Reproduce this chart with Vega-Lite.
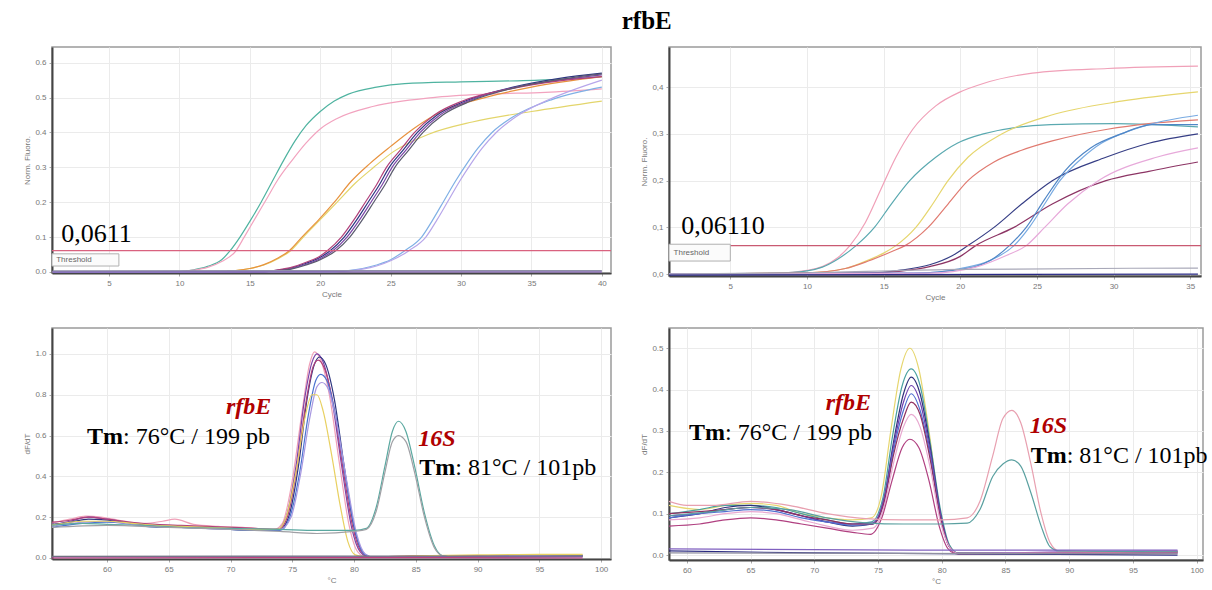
{
"$schema": "https://vega.github.io/schema/vega-lite/v6.json",
"background": "white",
"padding": {"left": 23, "top": 9, "right": 0, "bottom": 0},
"title": {"text": "rfbE", "font": "Liberation Serif", "fontSize": 25, "fontWeight": "bold", "color": "#000", "anchor": "middle", "dx": 31, "offset": 12},
"config": {
 "view": {"stroke": "#9a9a9a", "strokeWidth": 1.5},
 "axis": {"labelFont": "Liberation Sans", "labelFontSize": 8, "labelColor": "#777", "titleFont": "Liberation Sans", "titleFontSize": 8, "titleFontWeight": "normal", "titleColor": "#777", "gridColor": "#ebebeb", "gridWidth": 1, "tickColor": "#aaa", "tickSize": 3, "domainColor": "#444", "domainWidth": 2, "labelPadding": 3, "titlePadding": 3}
},
"datasets": {
 "amp1": [
  {"id":"teal","x":1,"y":0},{"id":"teal","x":10,"y":0.001},{"id":"teal","x":11,"y":0.006},{"id":"teal","x":12,"y":0.016},{"id":"teal","x":13,"y":0.035},{"id":"teal","x":13.6,"y":0.061},{"id":"teal","x":14.3,"y":0.1},{"id":"teal","x":15,"y":0.145},{"id":"teal","x":15.8,"y":0.2},{"id":"teal","x":16.6,"y":0.26},{"id":"teal","x":17.4,"y":0.32},{"id":"teal","x":18.2,"y":0.375},{"id":"teal","x":19,"y":0.42},{"id":"teal","x":20,"y":0.46},{"id":"teal","x":21,"y":0.49},{"id":"teal","x":22,"y":0.51},{"id":"teal","x":24,"y":0.53},{"id":"teal","x":26,"y":0.54},{"id":"teal","x":30,"y":0.545},{"id":"teal","x":34,"y":0.548},{"id":"teal","x":37,"y":0.552},{"id":"teal","x":40,"y":0.56},
  {"id":"pink","x":1,"y":0},{"id":"pink","x":10,"y":0.001},{"id":"pink","x":11,"y":0.005},{"id":"pink","x":12,"y":0.013},{"id":"pink","x":13,"y":0.03},{"id":"pink","x":14,"y":0.06},{"id":"pink","x":14.6,"y":0.1},{"id":"pink","x":15.4,"y":0.155},{"id":"pink","x":16.2,"y":0.21},{"id":"pink","x":17,"y":0.265},{"id":"pink","x":18,"y":0.32},{"id":"pink","x":19,"y":0.37},{"id":"pink","x":20,"y":0.41},{"id":"pink","x":21.2,"y":0.44},{"id":"pink","x":23.8,"y":0.475},{"id":"pink","x":28,"y":0.5},{"id":"pink","x":32,"y":0.51},{"id":"pink","x":36,"y":0.515},{"id":"pink","x":40,"y":0.525},
  {"id":"yellow","x":1,"y":0},{"id":"yellow","x":13,"y":0.001},{"id":"yellow","x":14,"y":0.004},{"id":"yellow","x":15,"y":0.01},{"id":"yellow","x":16,"y":0.02},{"id":"yellow","x":17,"y":0.038},{"id":"yellow","x":17.9,"y":0.061},{"id":"yellow","x":18.8,"y":0.1},{"id":"yellow","x":20,"y":0.15},{"id":"yellow","x":21.2,"y":0.2},{"id":"yellow","x":22.5,"y":0.255},{"id":"yellow","x":23.8,"y":0.3},{"id":"yellow","x":25.2,"y":0.345},{"id":"yellow","x":27.7,"y":0.395},{"id":"yellow","x":30.8,"y":0.43},{"id":"yellow","x":35,"y":0.46},{"id":"yellow","x":40,"y":0.49},
  {"id":"orange","x":1,"y":0},{"id":"orange","x":13,"y":0.001},{"id":"orange","x":14,"y":0.004},{"id":"orange","x":15,"y":0.01},{"id":"orange","x":16,"y":0.021},{"id":"orange","x":17,"y":0.04},{"id":"orange","x":17.8,"y":0.061},{"id":"orange","x":18.7,"y":0.1},{"id":"orange","x":19.9,"y":0.15},{"id":"orange","x":21,"y":0.2},{"id":"orange","x":22.2,"y":0.26},{"id":"orange","x":23.5,"y":0.31},{"id":"orange","x":25,"y":0.36},{"id":"orange","x":26.6,"y":0.41},{"id":"orange","x":28.6,"y":0.46},{"id":"orange","x":31.7,"y":0.5},{"id":"orange","x":35,"y":0.53},{"id":"orange","x":40,"y":0.56},
  {"id":"navy","x":1,"y":0},{"id":"navy","x":16,"y":0.001},{"id":"navy","x":17,"y":0.005},{"id":"navy","x":18,"y":0.012},{"id":"navy","x":19,"y":0.025},{"id":"navy","x":20,"y":0.042},{"id":"navy","x":20.7,"y":0.061},{"id":"navy","x":21.7,"y":0.1},{"id":"navy","x":22.6,"y":0.15},{"id":"navy","x":23.4,"y":0.2},{"id":"navy","x":24.2,"y":0.25},{"id":"navy","x":24.9,"y":0.3},{"id":"navy","x":25.9,"y":0.35},{"id":"navy","x":26.9,"y":0.4},{"id":"navy","x":28.3,"y":0.45},{"id":"navy","x":30.3,"y":0.49},{"id":"navy","x":33.7,"y":0.53},{"id":"navy","x":37,"y":0.555},{"id":"navy","x":40,"y":0.57},
  {"id":"purple","x":1,"y":0},{"id":"purple","x":16,"y":0.001},{"id":"purple","x":17,"y":0.004},{"id":"purple","x":18,"y":0.01},{"id":"purple","x":19,"y":0.022},{"id":"purple","x":20,"y":0.038},{"id":"purple","x":20.9,"y":0.061},{"id":"purple","x":21.9,"y":0.1},{"id":"purple","x":22.8,"y":0.15},{"id":"purple","x":23.6,"y":0.2},{"id":"purple","x":24.4,"y":0.25},{"id":"purple","x":25.1,"y":0.3},{"id":"purple","x":26.1,"y":0.35},{"id":"purple","x":27.1,"y":0.4},{"id":"purple","x":28.5,"y":0.45},{"id":"purple","x":30.5,"y":0.49},{"id":"purple","x":33.9,"y":0.53},{"id":"purple","x":37,"y":0.55},{"id":"purple","x":40,"y":0.565},
  {"id":"magenta","x":1,"y":0},{"id":"magenta","x":16,"y":0.001},{"id":"magenta","x":17,"y":0.006},{"id":"magenta","x":18,"y":0.014},{"id":"magenta","x":19,"y":0.028},{"id":"magenta","x":20,"y":0.046},{"id":"magenta","x":20.5,"y":0.061},{"id":"magenta","x":21.5,"y":0.1},{"id":"magenta","x":22.4,"y":0.15},{"id":"magenta","x":23.2,"y":0.2},{"id":"magenta","x":24,"y":0.25},{"id":"magenta","x":24.7,"y":0.3},{"id":"magenta","x":25.7,"y":0.35},{"id":"magenta","x":26.7,"y":0.4},{"id":"magenta","x":28.1,"y":0.45},{"id":"magenta","x":30.1,"y":0.49},{"id":"magenta","x":33.5,"y":0.525},{"id":"magenta","x":37,"y":0.548},{"id":"magenta","x":40,"y":0.56},
  {"id":"dgray","x":1,"y":0},{"id":"dgray","x":16,"y":0.001},{"id":"dgray","x":17,"y":0.004},{"id":"dgray","x":18,"y":0.009},{"id":"dgray","x":19,"y":0.02},{"id":"dgray","x":20,"y":0.035},{"id":"dgray","x":21.1,"y":0.061},{"id":"dgray","x":22.1,"y":0.1},{"id":"dgray","x":23,"y":0.15},{"id":"dgray","x":23.8,"y":0.2},{"id":"dgray","x":24.6,"y":0.25},{"id":"dgray","x":25.3,"y":0.3},{"id":"dgray","x":26.3,"y":0.35},{"id":"dgray","x":27.3,"y":0.4},{"id":"dgray","x":28.7,"y":0.45},{"id":"dgray","x":30.7,"y":0.49},{"id":"dgray","x":34,"y":0.53},{"id":"dgray","x":37,"y":0.552},{"id":"dgray","x":40,"y":0.568},
  {"id":"lblue","x":1,"y":0},{"id":"lblue","x":21,"y":0.001},{"id":"lblue","x":22,"y":0.004},{"id":"lblue","x":23,"y":0.01},{"id":"lblue","x":24,"y":0.02},{"id":"lblue","x":25,"y":0.035},{"id":"lblue","x":26,"y":0.061},{"id":"lblue","x":27.2,"y":0.1},{"id":"lblue","x":28,"y":0.15},{"id":"lblue","x":28.8,"y":0.205},{"id":"lblue","x":29.6,"y":0.26},{"id":"lblue","x":30.4,"y":0.31},{"id":"lblue","x":31.2,"y":0.355},{"id":"lblue","x":32.2,"y":0.4},{"id":"lblue","x":33.7,"y":0.445},{"id":"lblue","x":36.5,"y":0.495},{"id":"lblue","x":40,"y":0.53},
  {"id":"lav","x":1,"y":0},{"id":"lav","x":21,"y":0.001},{"id":"lav","x":22,"y":0.003},{"id":"lav","x":23,"y":0.008},{"id":"lav","x":24,"y":0.017},{"id":"lav","x":25,"y":0.032},{"id":"lav","x":26.3,"y":0.061},{"id":"lav","x":27.5,"y":0.1},{"id":"lav","x":28.3,"y":0.15},{"id":"lav","x":29.1,"y":0.205},{"id":"lav","x":29.9,"y":0.26},{"id":"lav","x":30.7,"y":0.31},{"id":"lav","x":31.5,"y":0.355},{"id":"lav","x":32.5,"y":0.4},{"id":"lav","x":33.9,"y":0.445},{"id":"lav","x":36.3,"y":0.495},{"id":"lav","x":40,"y":0.55},
  {"id":"base1","x":1,"y":0},{"id":"base1","x":40,"y":0},
  {"id":"base2","x":1,"y":0.003},{"id":"base2","x":20,"y":0.004},{"id":"base2","x":40,"y":0.004},
  {"id":"thr","x":0.95,"y":0.0611},{"id":"thr","x":40.65,"y":0.0611}
 ],
 "amp2": [
  {"id":"pink","x":1,"y":0},{"id":"pink","x":8,"y":0.002},{"id":"pink","x":10,"y":0.008},{"id":"pink","x":11,"y":0.016},{"id":"pink","x":12,"y":0.035},{"id":"pink","x":12.8,"y":0.061},{"id":"pink","x":13.8,"y":0.11},{"id":"pink","x":14.8,"y":0.18},{"id":"pink","x":15.8,"y":0.25},{"id":"pink","x":16.9,"y":0.31},{"id":"pink","x":18.4,"y":0.36},{"id":"pink","x":20,"y":0.39},{"id":"pink","x":21.5,"y":0.408},{"id":"pink","x":24.7,"y":0.43},{"id":"pink","x":29.6,"y":0.44},{"id":"pink","x":35.5,"y":0.445},
  {"id":"teal","x":1,"y":0},{"id":"teal","x":8,"y":0.002},{"id":"teal","x":10,"y":0.007},{"id":"teal","x":11,"y":0.015},{"id":"teal","x":12,"y":0.032},{"id":"teal","x":13.2,"y":0.061},{"id":"teal","x":14.4,"y":0.1},{"id":"teal","x":15.5,"y":0.15},{"id":"teal","x":16.7,"y":0.2},{"id":"teal","x":18.4,"y":0.25},{"id":"teal","x":19.8,"y":0.28},{"id":"teal","x":21.5,"y":0.3},{"id":"teal","x":25.9,"y":0.32},{"id":"teal","x":30,"y":0.322},{"id":"teal","x":35.5,"y":0.315},
  {"id":"yellow","x":1,"y":0},{"id":"yellow","x":10,"y":0.003},{"id":"yellow","x":12.5,"y":0.012},{"id":"yellow","x":14,"y":0.03},{"id":"yellow","x":15,"y":0.045},{"id":"yellow","x":15.8,"y":0.061},{"id":"yellow","x":17.1,"y":0.1},{"id":"yellow","x":18.2,"y":0.15},{"id":"yellow","x":19.2,"y":0.2},{"id":"yellow","x":20.5,"y":0.25},{"id":"yellow","x":22.7,"y":0.3},{"id":"yellow","x":25.9,"y":0.34},{"id":"yellow","x":30.5,"y":0.37},{"id":"yellow","x":35.5,"y":0.39},
  {"id":"salmon","x":1,"y":0},{"id":"salmon","x":10,"y":0.003},{"id":"salmon","x":12.5,"y":0.012},{"id":"salmon","x":14,"y":0.028},{"id":"salmon","x":15.5,"y":0.048},{"id":"salmon","x":16.4,"y":0.061},{"id":"salmon","x":17.9,"y":0.1},{"id":"salmon","x":19.2,"y":0.15},{"id":"salmon","x":20.5,"y":0.2},{"id":"salmon","x":22.2,"y":0.24},{"id":"salmon","x":24,"y":0.265},{"id":"salmon","x":26,"y":0.285},{"id":"salmon","x":29.6,"y":0.31},{"id":"salmon","x":32.3,"y":0.322},{"id":"salmon","x":35.5,"y":0.33},
  {"id":"navy","x":1,"y":0},{"id":"navy","x":14,"y":0.002},{"id":"navy","x":16,"y":0.008},{"id":"navy","x":18,"y":0.02},{"id":"navy","x":19.5,"y":0.04},{"id":"navy","x":20.5,"y":0.061},{"id":"navy","x":22.2,"y":0.1},{"id":"navy","x":24,"y":0.15},{"id":"navy","x":26,"y":0.2},{"id":"navy","x":29.5,"y":0.25},{"id":"navy","x":32.3,"y":0.28},{"id":"navy","x":35.5,"y":0.3},
  {"id":"maroon","x":1,"y":0},{"id":"maroon","x":14,"y":0.002},{"id":"maroon","x":16,"y":0.006},{"id":"maroon","x":18,"y":0.016},{"id":"maroon","x":20,"y":0.038},{"id":"maroon","x":21,"y":0.061},{"id":"maroon","x":23.5,"y":0.1},{"id":"maroon","x":26,"y":0.15},{"id":"maroon","x":29.5,"y":0.2},{"id":"maroon","x":32.3,"y":0.22},{"id":"maroon","x":35.5,"y":0.24},
  {"id":"lblue","x":1,"y":0},{"id":"lblue","x":17,"y":0.002},{"id":"lblue","x":20,"y":0.012},{"id":"lblue","x":22,"y":0.03},{"id":"lblue","x":23.5,"y":0.061},{"id":"lblue","x":24.5,"y":0.1},{"id":"lblue","x":25.5,"y":0.15},{"id":"lblue","x":26.5,"y":0.2},{"id":"lblue","x":28,"y":0.25},{"id":"lblue","x":29.2,"y":0.28},{"id":"lblue","x":30.5,"y":0.3},{"id":"lblue","x":32.3,"y":0.32},{"id":"lblue","x":35.5,"y":0.34},
  {"id":"blue2","x":1,"y":0},{"id":"blue2","x":17,"y":0.002},{"id":"blue2","x":20,"y":0.01},{"id":"blue2","x":22,"y":0.03},{"id":"blue2","x":23.2,"y":0.061},{"id":"blue2","x":24.3,"y":0.1},{"id":"blue2","x":25.5,"y":0.16},{"id":"blue2","x":26.8,"y":0.22},{"id":"blue2","x":28.5,"y":0.27},{"id":"blue2","x":30.5,"y":0.3},{"id":"blue2","x":32.5,"y":0.32},{"id":"blue2","x":35.5,"y":0.32},
  {"id":"lpink","x":1,"y":0},{"id":"lpink","x":18,"y":0.002},{"id":"lpink","x":21,"y":0.015},{"id":"lpink","x":23,"y":0.04},{"id":"lpink","x":24.3,"y":0.061},{"id":"lpink","x":25.5,"y":0.1},{"id":"lpink","x":27,"y":0.15},{"id":"lpink","x":29,"y":0.2},{"id":"lpink","x":32.8,"y":0.25},{"id":"lpink","x":35.5,"y":0.27},
  {"id":"gbase","x":1,"y":0},{"id":"gbase","x":10,"y":0.003},{"id":"gbase","x":20,"y":0.01},{"id":"gbase","x":35.5,"y":0.013},
  {"id":"nbase","x":1,"y":-0.002},{"id":"nbase","x":35.5,"y":0},
  {"id":"thr","x":1,"y":0.0611},{"id":"thr","x":35.7,"y":0.0611}
 ],
 "melt1": [
  {"id":"pink","x":55.5,"y":0.17},{"id":"pink","x":57,"y":0.19},{"id":"pink","x":58.3,"y":0.205},{"id":"pink","x":59.5,"y":0.2},{"id":"pink","x":61,"y":0.185},{"id":"pink","x":63,"y":0.17},{"id":"pink","x":64.5,"y":0.18},{"id":"pink","x":65.5,"y":0.19},{"id":"pink","x":67,"y":0.165},{"id":"pink","x":69,"y":0.155},{"id":"pink","x":71,"y":0.15},{"id":"pink","x":73.5,"y":0.14},{"id":"pink","x":74.2,"y":0.17},{"id":"pink","x":75,"y":0.38},{"id":"pink","x":75.8,"y":0.72},{"id":"pink","x":76.4,"y":0.95},{"id":"pink","x":76.8,"y":1.01},{"id":"pink","x":77.3,"y":0.97},{"id":"pink","x":78,"y":0.8},{"id":"pink","x":78.8,"y":0.47},{"id":"pink","x":79.6,"y":0.16},{"id":"pink","x":80.3,"y":0.03},{"id":"pink","x":81,"y":0.005},{"id":"pink","x":85,"y":0.008},{"id":"pink","x":90,"y":0.01},{"id":"pink","x":95,"y":0.012},{"id":"pink","x":98.5,"y":0.012},
  {"id":"purple","x":55.5,"y":0.16},{"id":"purple","x":57,"y":0.18},{"id":"purple","x":58.5,"y":0.2},{"id":"purple","x":60,"y":0.19},{"id":"purple","x":62,"y":0.17},{"id":"purple","x":64,"y":0.16},{"id":"purple","x":66,"y":0.155},{"id":"purple","x":68,"y":0.15},{"id":"purple","x":70,"y":0.145},{"id":"purple","x":72,"y":0.14},{"id":"purple","x":73.8,"y":0.14},{"id":"purple","x":74.5,"y":0.2},{"id":"purple","x":75.3,"y":0.45},{"id":"purple","x":76,"y":0.78},{"id":"purple","x":76.6,"y":0.96},{"id":"purple","x":77,"y":1.0},{"id":"purple","x":77.5,"y":0.96},{"id":"purple","x":78.2,"y":0.78},{"id":"purple","x":79,"y":0.45},{"id":"purple","x":79.8,"y":0.15},{"id":"purple","x":80.5,"y":0.03},{"id":"purple","x":81.2,"y":0.005},{"id":"purple","x":85,"y":0.008},{"id":"purple","x":90,"y":0.01},{"id":"purple","x":95,"y":0.01},{"id":"purple","x":98.5,"y":0.01},
  {"id":"navy","x":55.5,"y":0.165},{"id":"navy","x":57,"y":0.175},{"id":"navy","x":58.5,"y":0.19},{"id":"navy","x":60,"y":0.185},{"id":"navy","x":62,"y":0.17},{"id":"navy","x":64,"y":0.155},{"id":"navy","x":66,"y":0.15},{"id":"navy","x":68,"y":0.15},{"id":"navy","x":70,"y":0.14},{"id":"navy","x":72,"y":0.135},{"id":"navy","x":74,"y":0.14},{"id":"navy","x":74.7,"y":0.2},{"id":"navy","x":75.5,"y":0.45},{"id":"navy","x":76.2,"y":0.78},{"id":"navy","x":76.8,"y":0.95},{"id":"navy","x":77.2,"y":0.985},{"id":"navy","x":77.7,"y":0.95},{"id":"navy","x":78.4,"y":0.78},{"id":"navy","x":79.2,"y":0.45},{"id":"navy","x":80,"y":0.15},{"id":"navy","x":80.7,"y":0.03},{"id":"navy","x":81.4,"y":0.005},{"id":"navy","x":85,"y":0.006},{"id":"navy","x":90,"y":0.008},{"id":"navy","x":95,"y":0.01},{"id":"navy","x":98.5,"y":0.01},
  {"id":"magenta","x":55.5,"y":0.175},{"id":"magenta","x":57,"y":0.185},{"id":"magenta","x":58.5,"y":0.2},{"id":"magenta","x":60,"y":0.19},{"id":"magenta","x":62,"y":0.175},{"id":"magenta","x":64,"y":0.165},{"id":"magenta","x":66,"y":0.16},{"id":"magenta","x":68,"y":0.155},{"id":"magenta","x":70,"y":0.15},{"id":"magenta","x":72,"y":0.145},{"id":"magenta","x":73.9,"y":0.14},{"id":"magenta","x":74.6,"y":0.2},{"id":"magenta","x":75.4,"y":0.45},{"id":"magenta","x":76.1,"y":0.76},{"id":"magenta","x":76.7,"y":0.94},{"id":"magenta","x":77.1,"y":0.97},{"id":"magenta","x":77.6,"y":0.93},{"id":"magenta","x":78.3,"y":0.76},{"id":"magenta","x":79.1,"y":0.44},{"id":"magenta","x":79.9,"y":0.15},{"id":"magenta","x":80.6,"y":0.03},{"id":"magenta","x":81.3,"y":0.005},{"id":"magenta","x":85,"y":0.01},{"id":"magenta","x":90,"y":0.012},{"id":"magenta","x":95,"y":0.01},{"id":"magenta","x":98.5,"y":0.01},
  {"id":"blue","x":55.5,"y":0.15},{"id":"blue","x":58,"y":0.17},{"id":"blue","x":60,"y":0.175},{"id":"blue","x":62,"y":0.165},{"id":"blue","x":64,"y":0.15},{"id":"blue","x":66,"y":0.15},{"id":"blue","x":68,"y":0.145},{"id":"blue","x":70,"y":0.14},{"id":"blue","x":72,"y":0.135},{"id":"blue","x":74,"y":0.135},{"id":"blue","x":74.8,"y":0.2},{"id":"blue","x":75.6,"y":0.42},{"id":"blue","x":76.3,"y":0.7},{"id":"blue","x":76.9,"y":0.87},{"id":"blue","x":77.3,"y":0.9},{"id":"blue","x":77.8,"y":0.87},{"id":"blue","x":78.5,"y":0.7},{"id":"blue","x":79.3,"y":0.4},{"id":"blue","x":80.1,"y":0.13},{"id":"blue","x":80.8,"y":0.02},{"id":"blue","x":81.5,"y":0.005},{"id":"blue","x":85,"y":0.006},{"id":"blue","x":90,"y":0.008},{"id":"blue","x":95,"y":0.01},{"id":"blue","x":98.5,"y":0.01},
  {"id":"lav","x":55.5,"y":0.155},{"id":"lav","x":58,"y":0.175},{"id":"lav","x":60,"y":0.18},{"id":"lav","x":62,"y":0.165},{"id":"lav","x":64,"y":0.155},{"id":"lav","x":66,"y":0.15},{"id":"lav","x":68,"y":0.145},{"id":"lav","x":70,"y":0.14},{"id":"lav","x":72,"y":0.14},{"id":"lav","x":74,"y":0.14},{"id":"lav","x":74.9,"y":0.2},{"id":"lav","x":75.7,"y":0.42},{"id":"lav","x":76.4,"y":0.68},{"id":"lav","x":77,"y":0.84},{"id":"lav","x":77.4,"y":0.86},{"id":"lav","x":77.9,"y":0.83},{"id":"lav","x":78.6,"y":0.66},{"id":"lav","x":79.4,"y":0.38},{"id":"lav","x":80.2,"y":0.12},{"id":"lav","x":80.9,"y":0.02},{"id":"lav","x":81.6,"y":0.005},{"id":"lav","x":90,"y":0.008},{"id":"lav","x":98.5,"y":0.015},
  {"id":"yellow","x":55.5,"y":0.16},{"id":"yellow","x":58,"y":0.18},{"id":"yellow","x":60,"y":0.18},{"id":"yellow","x":62,"y":0.17},{"id":"yellow","x":64,"y":0.16},{"id":"yellow","x":66,"y":0.155},{"id":"yellow","x":68,"y":0.15},{"id":"yellow","x":70,"y":0.145},{"id":"yellow","x":72,"y":0.14},{"id":"yellow","x":73.8,"y":0.14},{"id":"yellow","x":74.5,"y":0.2},{"id":"yellow","x":75.3,"y":0.42},{"id":"yellow","x":76,"y":0.68},{"id":"yellow","x":76.6,"y":0.8},{"id":"yellow","x":77,"y":0.8},{"id":"yellow","x":77.5,"y":0.72},{"id":"yellow","x":78.2,"y":0.5},{"id":"yellow","x":78.9,"y":0.25},{"id":"yellow","x":79.5,"y":0.08},{"id":"yellow","x":80.1,"y":0.015},{"id":"yellow","x":81,"y":0.005},{"id":"yellow","x":85,"y":0.01},{"id":"yellow","x":90,"y":0.015},{"id":"yellow","x":95,"y":0.018},{"id":"yellow","x":98.5,"y":0.018},
  {"id":"teal16","x":55.5,"y":0.16},{"id":"teal16","x":58,"y":0.17},{"id":"teal16","x":60,"y":0.165},{"id":"teal16","x":63,"y":0.16},{"id":"teal16","x":66,"y":0.15},{"id":"teal16","x":70,"y":0.145},{"id":"teal16","x":74,"y":0.14},{"id":"teal16","x":77,"y":0.135},{"id":"teal16","x":80,"y":0.135},{"id":"teal16","x":81,"y":0.145},{"id":"teal16","x":81.8,"y":0.25},{"id":"teal16","x":82.5,"y":0.45},{"id":"teal16","x":83.1,"y":0.62},{"id":"teal16","x":83.6,"y":0.67},{"id":"teal16","x":84.2,"y":0.62},{"id":"teal16","x":84.9,"y":0.45},{"id":"teal16","x":85.7,"y":0.22},{"id":"teal16","x":86.5,"y":0.06},{"id":"teal16","x":87.2,"y":0.01},{"id":"teal16","x":88,"y":0.005},{"id":"teal16","x":92,"y":0.005},{"id":"teal16","x":98.5,"y":0.008},
  {"id":"gray16","x":55.5,"y":0.15},{"id":"gray16","x":60,"y":0.16},{"id":"gray16","x":65,"y":0.15},{"id":"gray16","x":70,"y":0.14},{"id":"gray16","x":74,"y":0.13},{"id":"gray16","x":77,"y":0.12},{"id":"gray16","x":80,"y":0.13},{"id":"gray16","x":81,"y":0.14},{"id":"gray16","x":81.8,"y":0.23},{"id":"gray16","x":82.5,"y":0.42},{"id":"gray16","x":83.1,"y":0.57},{"id":"gray16","x":83.6,"y":0.6},{"id":"gray16","x":84.2,"y":0.57},{"id":"gray16","x":84.9,"y":0.42},{"id":"gray16","x":85.7,"y":0.2},{"id":"gray16","x":86.5,"y":0.05},{"id":"gray16","x":87.2,"y":0.01},{"id":"gray16","x":88,"y":0.005},{"id":"gray16","x":98.5,"y":0.008},
  {"id":"f1","x":55.5,"y":0.005},{"id":"f1","x":98.5,"y":0.005},
  {"id":"f2","x":55.5,"y":0},{"id":"f2","x":80,"y":0.002},{"id":"f2","x":98.5,"y":0},
  {"id":"f3","x":55.5,"y":0.008},{"id":"f3","x":98.5,"y":0.01}
 ],
 "melt2": [
  {"id":"yellow","x":58.6,"y":0.12},{"id":"yellow","x":61,"y":0.11},{"id":"yellow","x":63,"y":0.12},{"id":"yellow","x":65,"y":0.125},{"id":"yellow","x":67,"y":0.12},{"id":"yellow","x":69,"y":0.1},{"id":"yellow","x":71,"y":0.09},{"id":"yellow","x":73,"y":0.085},{"id":"yellow","x":74.5,"y":0.09},{"id":"yellow","x":75.3,"y":0.15},{"id":"yellow","x":76,"y":0.3},{"id":"yellow","x":76.8,"y":0.45},{"id":"yellow","x":77.5,"y":0.5},{"id":"yellow","x":78.2,"y":0.45},{"id":"yellow","x":79,"y":0.3},{"id":"yellow","x":79.8,"y":0.12},{"id":"yellow","x":80.5,"y":0.03},{"id":"yellow","x":81.2,"y":0.005},{"id":"yellow","x":85,"y":0.005},{"id":"yellow","x":90,"y":0.006},{"id":"yellow","x":98.5,"y":0.008},
  {"id":"teal","x":58.6,"y":0.1},{"id":"teal","x":61,"y":0.11},{"id":"teal","x":63,"y":0.12},{"id":"teal","x":65,"y":0.12},{"id":"teal","x":67,"y":0.115},{"id":"teal","x":69,"y":0.1},{"id":"teal","x":71,"y":0.085},{"id":"teal","x":73,"y":0.075},{"id":"teal","x":74.5,"y":0.08},{"id":"teal","x":75.4,"y":0.14},{"id":"teal","x":76.1,"y":0.28},{"id":"teal","x":76.9,"y":0.41},{"id":"teal","x":77.6,"y":0.45},{"id":"teal","x":78.3,"y":0.41},{"id":"teal","x":79.1,"y":0.27},{"id":"teal","x":79.9,"y":0.11},{"id":"teal","x":80.6,"y":0.025},{"id":"teal","x":81.3,"y":0.005},{"id":"teal","x":85,"y":0.005},{"id":"teal","x":98.5,"y":0.008},
  {"id":"navy","x":58.6,"y":0.09},{"id":"navy","x":61,"y":0.1},{"id":"navy","x":63,"y":0.115},{"id":"navy","x":65,"y":0.12},{"id":"navy","x":67,"y":0.11},{"id":"navy","x":69,"y":0.095},{"id":"navy","x":71,"y":0.08},{"id":"navy","x":73,"y":0.07},{"id":"navy","x":74.6,"y":0.075},{"id":"navy","x":75.5,"y":0.14},{"id":"navy","x":76.2,"y":0.27},{"id":"navy","x":77,"y":0.39},{"id":"navy","x":77.6,"y":0.43},{"id":"navy","x":78.3,"y":0.39},{"id":"navy","x":79.1,"y":0.26},{"id":"navy","x":79.9,"y":0.1},{"id":"navy","x":80.6,"y":0.02},{"id":"navy","x":81.3,"y":0.003},{"id":"navy","x":90,"y":0.003},{"id":"navy","x":98.5,"y":0.005},
  {"id":"purple","x":58.6,"y":0.095},{"id":"purple","x":61,"y":0.1},{"id":"purple","x":63,"y":0.11},{"id":"purple","x":65,"y":0.115},{"id":"purple","x":67,"y":0.11},{"id":"purple","x":69,"y":0.095},{"id":"purple","x":71,"y":0.08},{"id":"purple","x":73,"y":0.075},{"id":"purple","x":74.6,"y":0.078},{"id":"purple","x":75.5,"y":0.14},{"id":"purple","x":76.2,"y":0.26},{"id":"purple","x":77,"y":0.37},{"id":"purple","x":77.6,"y":0.41},{"id":"purple","x":78.3,"y":0.37},{"id":"purple","x":79.1,"y":0.25},{"id":"purple","x":79.9,"y":0.1},{"id":"purple","x":80.6,"y":0.02},{"id":"purple","x":81.3,"y":0.004},{"id":"purple","x":90,"y":0.008},{"id":"purple","x":98.5,"y":0.01},
  {"id":"blue","x":58.6,"y":0.09},{"id":"blue","x":61,"y":0.1},{"id":"blue","x":63,"y":0.105},{"id":"blue","x":65,"y":0.11},{"id":"blue","x":67,"y":0.105},{"id":"blue","x":69,"y":0.09},{"id":"blue","x":71,"y":0.08},{"id":"blue","x":73,"y":0.072},{"id":"blue","x":74.6,"y":0.075},{"id":"blue","x":75.5,"y":0.13},{"id":"blue","x":76.2,"y":0.25},{"id":"blue","x":77,"y":0.35},{"id":"blue","x":77.6,"y":0.39},{"id":"blue","x":78.3,"y":0.35},{"id":"blue","x":79.1,"y":0.24},{"id":"blue","x":79.9,"y":0.09},{"id":"blue","x":80.6,"y":0.02},{"id":"blue","x":81.3,"y":0.004},{"id":"blue","x":90,"y":0.006},{"id":"blue","x":98.5,"y":0.008},
  {"id":"maroon","x":58.6,"y":0.1},{"id":"maroon","x":61,"y":0.105},{"id":"maroon","x":63,"y":0.11},{"id":"maroon","x":65,"y":0.115},{"id":"maroon","x":67,"y":0.11},{"id":"maroon","x":69,"y":0.095},{"id":"maroon","x":71,"y":0.085},{"id":"maroon","x":73,"y":0.075},{"id":"maroon","x":74.6,"y":0.075},{"id":"maroon","x":75.5,"y":0.13},{"id":"maroon","x":76.2,"y":0.24},{"id":"maroon","x":77,"y":0.33},{"id":"maroon","x":77.6,"y":0.37},{"id":"maroon","x":78.3,"y":0.34},{"id":"maroon","x":79.1,"y":0.23},{"id":"maroon","x":79.9,"y":0.09},{"id":"maroon","x":80.6,"y":0.02},{"id":"maroon","x":81.3,"y":0.004},{"id":"maroon","x":90,"y":0.005},{"id":"maroon","x":98.5,"y":0.007},
  {"id":"lpink","x":58.6,"y":0.085},{"id":"lpink","x":61,"y":0.09},{"id":"lpink","x":63,"y":0.1},{"id":"lpink","x":65,"y":0.105},{"id":"lpink","x":67,"y":0.1},{"id":"lpink","x":69,"y":0.085},{"id":"lpink","x":71,"y":0.07},{"id":"lpink","x":73,"y":0.06},{"id":"lpink","x":74.6,"y":0.065},{"id":"lpink","x":75.5,"y":0.12},{"id":"lpink","x":76.2,"y":0.22},{"id":"lpink","x":77,"y":0.31},{"id":"lpink","x":77.6,"y":0.34},{"id":"lpink","x":78.3,"y":0.31},{"id":"lpink","x":79.1,"y":0.21},{"id":"lpink","x":79.9,"y":0.08},{"id":"lpink","x":80.6,"y":0.02},{"id":"lpink","x":81.3,"y":0.004},{"id":"lpink","x":98.5,"y":0.006},
  {"id":"magenta","x":58.6,"y":0.07},{"id":"magenta","x":61,"y":0.075},{"id":"magenta","x":63,"y":0.085},{"id":"magenta","x":65,"y":0.09},{"id":"magenta","x":67,"y":0.085},{"id":"magenta","x":69,"y":0.075},{"id":"magenta","x":71,"y":0.065},{"id":"magenta","x":73,"y":0.055},{"id":"magenta","x":74.4,"y":0.05},{"id":"magenta","x":75.3,"y":0.09},{"id":"magenta","x":76.1,"y":0.18},{"id":"magenta","x":76.9,"y":0.26},{"id":"magenta","x":77.5,"y":0.28},{"id":"magenta","x":78.2,"y":0.26},{"id":"magenta","x":79,"y":0.18},{"id":"magenta","x":79.8,"y":0.07},{"id":"magenta","x":80.5,"y":0.015},{"id":"magenta","x":81.2,"y":0.003},{"id":"magenta","x":98.5,"y":0.005},
  {"id":"pink16","x":58.6,"y":0.13},{"id":"pink16","x":60,"y":0.12},{"id":"pink16","x":62,"y":0.12},{"id":"pink16","x":65,"y":0.13},{"id":"pink16","x":68,"y":0.12},{"id":"pink16","x":71,"y":0.1},{"id":"pink16","x":74,"y":0.088},{"id":"pink16","x":77,"y":0.085},{"id":"pink16","x":80,"y":0.085},{"id":"pink16","x":82,"y":0.09},{"id":"pink16","x":83,"y":0.13},{"id":"pink16","x":84,"y":0.24},{"id":"pink16","x":84.8,"y":0.33},{"id":"pink16","x":85.5,"y":0.35},{"id":"pink16","x":86.2,"y":0.32},{"id":"pink16","x":87,"y":0.22},{"id":"pink16","x":87.8,"y":0.1},{"id":"pink16","x":88.5,"y":0.03},{"id":"pink16","x":89.2,"y":0.01},{"id":"pink16","x":92,"y":0.008},{"id":"pink16","x":98.5,"y":0.01},
  {"id":"teal16","x":58.6,"y":0.095},{"id":"teal16","x":62,"y":0.105},{"id":"teal16","x":65,"y":0.115},{"id":"teal16","x":68,"y":0.11},{"id":"teal16","x":71,"y":0.09},{"id":"teal16","x":74,"y":0.078},{"id":"teal16","x":77,"y":0.075},{"id":"teal16","x":80,"y":0.075},{"id":"teal16","x":82,"y":0.077},{"id":"teal16","x":83,"y":0.11},{"id":"teal16","x":84,"y":0.19},{"id":"teal16","x":84.8,"y":0.22},{"id":"teal16","x":85.5,"y":0.23},{"id":"teal16","x":86.2,"y":0.215},{"id":"teal16","x":87,"y":0.15},{"id":"teal16","x":87.8,"y":0.07},{"id":"teal16","x":88.5,"y":0.02},{"id":"teal16","x":89.2,"y":0.01},{"id":"teal16","x":98.5,"y":0.008},
  {"id":"f1","x":58.6,"y":0.01},{"id":"f1","x":70,"y":0.005},{"id":"f1","x":98.5,"y":0},
  {"id":"f2","x":58.6,"y":0.015},{"id":"f2","x":80,"y":0.012},{"id":"f2","x":98.5,"y":0.012},
  {"id":"f3","x":58.6,"y":0.005},{"id":"f3","x":98.5,"y":0.003}
 ],
 "boxes": [
  {"p":1,"x":0.95,"x2":5.7,"y":0.017,"y2":0.052},
  {"p":2,"x":1.0,"x2":5.0,"y":0.028,"y2":0.064}
 ],
 "labels": [
  {"p":1,"x":1.6,"y":0.086,"t":"0,0611","k":"big"},
  {"p":1,"x":1.25,"y":0.034,"t":"Threshold","k":"thr"},
  {"p":2,"x":1.8,"y":0.0856,"t":"0,06110","k":"big"},
  {"p":2,"x":1.3,"y":0.046,"t":"Threshold","k":"thr"},
  {"p":3,"x":73.3,"y":0.707,"t":"rfbE","k":"gr"},
  {"p":3,"x":61.3,"y":0.561,"t":"Tm","k":"tm"},
  {"p":3,"x":61.3,"y":0.561,"t":": 76°C / 199 pb","k":"rest"},
  {"p":3,"x":85.2,"y":0.551,"t":"16S","k":"gl"},
  {"p":3,"x":88.2,"y":0.405,"t":"Tm","k":"tm"},
  {"p":3,"x":88.2,"y":0.405,"t":": 81°C / 101pb","k":"rest"},
  {"p":4,"x":74.45,"y":0.35,"t":"rfbE","k":"gr"},
  {"p":4,"x":63.0,"y":0.277,"t":"Tm","k":"tm"},
  {"p":4,"x":63.0,"y":0.277,"t":": 76°C / 199 pb","k":"rest"},
  {"p":4,"x":86.9,"y":0.296,"t":"16S","k":"gl"},
  {"p":4,"x":89.8,"y":0.223,"t":"Tm","k":"tm"},
  {"p":4,"x":89.8,"y":0.223,"t":": 81°C / 101pb","k":"rest"}
 ]
},
"bounds": "flush",
"columns": 2,
"spacing": {"row": 52, "column": 58},
"resolve": {"scale": {"color": "independent"}},
"concat": [
   {
    "width": 559, "height": 226,
    "encoding": {
     "x": {"field": "x", "type": "quantitative", "scale": {"domain": [0.95, 40.65], "nice": false, "zero": false}, "axis": {"title": "Cycle", "values": [5,10,15,20,25,30,35,40]}},
     "y": {"field": "y", "type": "quantitative", "scale": {"domain": [-0.003, 0.645], "nice": false, "zero": false}, "axis": {"title": "Norm. Fluoro.", "values": [0,0.1,0.2,0.3,0.4,0.5,0.6], "format": ".1f"}}
    },
    "layer": [
     {"data": {"name": "amp1"}, "mark": {"type": "line", "interpolate": "monotone", "strokeWidth": 1.2, "clip": true},
      "encoding": {"color": {"field": "id", "type": "nominal", "legend": null,
       "scale": {"domain": ["teal","pink","yellow","orange","navy","purple","magenta","dgray","lblue","lav","base1","base2","thr"],
                 "range": ["#4fb3a0","#f2a3bf","#e3d56b","#e8923e","#2d3580","#7b45a8","#b0407a","#5a5a6e","#7fb0e5","#b7a6ea","#7a55b0","#9090a8","#d9627f"]}}}},
     {"data": {"name": "boxes"}, "transform": [{"filter": "datum.p == 1"}], "mark": {"type": "rect", "fill": "#fbfbfb", "stroke": "#b0b0b0", "strokeWidth": 1},
      "encoding": {"x2": {"field": "x2"}, "y2": {"field": "y2"}}},
     {"data": {"name": "labels"}, "transform": [{"filter": "datum.p == 1 && datum.k == 'thr'"}], "mark": {"type": "text", "font": "Liberation Sans", "fontSize": 8, "color": "#666", "align": "left", "baseline": "middle"},
      "encoding": {"text": {"field": "t"}}},
     {"data": {"name": "labels"}, "transform": [{"filter": "datum.p == 1 && datum.k == 'big'"}], "mark": {"type": "text", "font": "Liberation Serif", "fontSize": 26, "color": "#000", "align": "left", "baseline": "alphabetic"},
      "encoding": {"text": {"field": "t"}}}
    ]
   },
   {
    "width": 532, "height": 229,
    "encoding": {
     "x": {"field": "x", "type": "quantitative", "scale": {"domain": [1, 35.7], "nice": false, "zero": false}, "axis": {"title": "Cycle", "values": [5,10,15,20,25,30,35]}},
     "y": {"field": "y", "type": "quantitative", "scale": {"domain": [-0.004, 0.486], "nice": false, "zero": false}, "axis": {"title": "Norm. Fluoro.", "values": [0,0.1,0.2,0.3,0.4], "labelExpr": "replace(format(datum.value, '.1f'), '.', ',')"}}
    },
    "layer": [
     {"data": {"name": "amp2"}, "mark": {"type": "line", "interpolate": "monotone", "strokeWidth": 1.2, "clip": true},
      "encoding": {"color": {"field": "id", "type": "nominal", "legend": null,
       "scale": {"domain": ["pink","teal","yellow","salmon","navy","maroon","lblue","blue2","lpink","gbase","nbase","thr"],
                 "range": ["#f0a0b8","#5aa9b0","#e6d66e","#e07a70","#363e85","#8c3464","#78aae2","#4f86c6","#e7a9da","#a8a8b8","#2a2a85","#c95a72"]}}}},
     {"data": {"name": "boxes"}, "transform": [{"filter": "datum.p == 2"}], "mark": {"type": "rect", "fill": "#fbfbfb", "stroke": "#b0b0b0", "strokeWidth": 1},
      "encoding": {"x2": {"field": "x2"}, "y2": {"field": "y2"}}},
     {"data": {"name": "labels"}, "transform": [{"filter": "datum.p == 2 && datum.k == 'thr'"}], "mark": {"type": "text", "font": "Liberation Sans", "fontSize": 8, "color": "#666", "align": "left", "baseline": "middle"},
      "encoding": {"text": {"field": "t"}}},
     {"data": {"name": "labels"}, "transform": [{"filter": "datum.p == 2 && datum.k == 'big'"}], "mark": {"type": "text", "font": "Liberation Serif", "fontSize": 26, "color": "#000", "align": "left", "baseline": "alphabetic"},
      "encoding": {"text": {"field": "t"}}}
    ]
   },
   {
    "width": 559, "height": 231,
    "encoding": {
     "x": {"field": "x", "type": "quantitative", "scale": {"domain": [55.55, 100.8], "nice": false, "zero": false}, "axis": {"title": "°C", "values": [60,65,70,75,80,85,90,95,100]}},
     "y": {"field": "y", "type": "quantitative", "scale": {"domain": [-0.005, 1.127], "nice": false, "zero": false}, "axis": {"title": "dF/dT", "values": [0,0.2,0.4,0.6,0.8,1.0], "format": ".1f"}}
    },
    "layer": [
     {"data": {"name": "melt1"}, "mark": {"type": "line", "interpolate": "monotone", "strokeWidth": 1.2, "clip": true},
      "encoding": {"color": {"field": "id", "type": "nominal", "legend": null,
       "scale": {"domain": ["pink","purple","navy","magenta","blue","lav","yellow","teal16","gray16","f1","f2","f3"],
                 "range": ["#f0a0b8","#7b45a8","#2d3580","#b0407a","#4a72d0","#a898e0","#e8d060","#5aa8a0","#a0a0a5","#8050b0","#c04080","#707080"]}}}},
     {"data": {"name": "labels"}, "transform": [{"filter": "datum.p == 3 && datum.k == 'gr'"}], "mark": {"type": "text", "font": "Liberation Serif", "fontSize": 24, "fontWeight": "bold", "fontStyle": "italic", "color": "#b00000", "align": "right", "baseline": "alphabetic"},
      "encoding": {"text": {"field": "t"}}},
     {"data": {"name": "labels"}, "transform": [{"filter": "datum.p == 3 && datum.k == 'gl'"}], "mark": {"type": "text", "font": "Liberation Serif", "fontSize": 24, "fontWeight": "bold", "fontStyle": "italic", "color": "#b00000", "align": "left", "baseline": "alphabetic"},
      "encoding": {"text": {"field": "t"}}},
     {"data": {"name": "labels"}, "transform": [{"filter": "datum.p == 3 && datum.k == 'tm'"}], "mark": {"type": "text", "font": "Liberation Serif", "fontSize": 24, "fontWeight": "bold", "color": "#000", "align": "right", "baseline": "alphabetic"},
      "encoding": {"text": {"field": "t"}}},
     {"data": {"name": "labels"}, "transform": [{"filter": "datum.p == 3 && datum.k == 'rest'"}], "mark": {"type": "text", "font": "Liberation Serif", "fontSize": 24, "color": "#000", "align": "left", "baseline": "alphabetic"},
      "encoding": {"text": {"field": "t"}}}
    ]
   },
   {
    "width": 534, "height": 232,
    "encoding": {
     "x": {"field": "x", "type": "quantitative", "scale": {"domain": [58.6, 100.5], "nice": false, "zero": false}, "axis": {"title": "°C", "values": [60,65,70,75,80,85,90,95,100]}},
     "y": {"field": "y", "type": "quantitative", "scale": {"domain": [-0.012, 0.549], "nice": false, "zero": false}, "axis": {"title": "dF/dT", "values": [0,0.1,0.2,0.3,0.4,0.5], "format": ".1f"}}
    },
    "layer": [
     {"data": {"name": "melt2"}, "mark": {"type": "line", "interpolate": "monotone", "strokeWidth": 1.2, "clip": true},
      "encoding": {"color": {"field": "id", "type": "nominal", "legend": null,
       "scale": {"domain": ["yellow","teal","navy","purple","blue","maroon","lpink","magenta","pink16","teal16","f1","f2","f3"],
                 "range": ["#e6d66e","#4aa0a0","#30307a","#7040b0","#5070d0","#903060","#e8a8d0","#b04080","#e8a0b0","#5aa0a0","#2a2a80","#8060c0","#9090a0"]}}}},
     {"data": {"name": "labels"}, "transform": [{"filter": "datum.p == 4 && datum.k == 'gr'"}], "mark": {"type": "text", "font": "Liberation Serif", "fontSize": 24, "fontWeight": "bold", "fontStyle": "italic", "color": "#b00000", "align": "right", "baseline": "alphabetic"},
      "encoding": {"text": {"field": "t"}}},
     {"data": {"name": "labels"}, "transform": [{"filter": "datum.p == 4 && datum.k == 'gl'"}], "mark": {"type": "text", "font": "Liberation Serif", "fontSize": 24, "fontWeight": "bold", "fontStyle": "italic", "color": "#b00000", "align": "left", "baseline": "alphabetic"},
      "encoding": {"text": {"field": "t"}}},
     {"data": {"name": "labels"}, "transform": [{"filter": "datum.p == 4 && datum.k == 'tm'"}], "mark": {"type": "text", "font": "Liberation Serif", "fontSize": 24, "fontWeight": "bold", "color": "#000", "align": "right", "baseline": "alphabetic"},
      "encoding": {"text": {"field": "t"}}},
     {"data": {"name": "labels"}, "transform": [{"filter": "datum.p == 4 && datum.k == 'rest'"}], "mark": {"type": "text", "font": "Liberation Serif", "fontSize": 24, "color": "#000", "align": "left", "baseline": "alphabetic"},
      "encoding": {"text": {"field": "t"}}}
    ]
   }
]
}
